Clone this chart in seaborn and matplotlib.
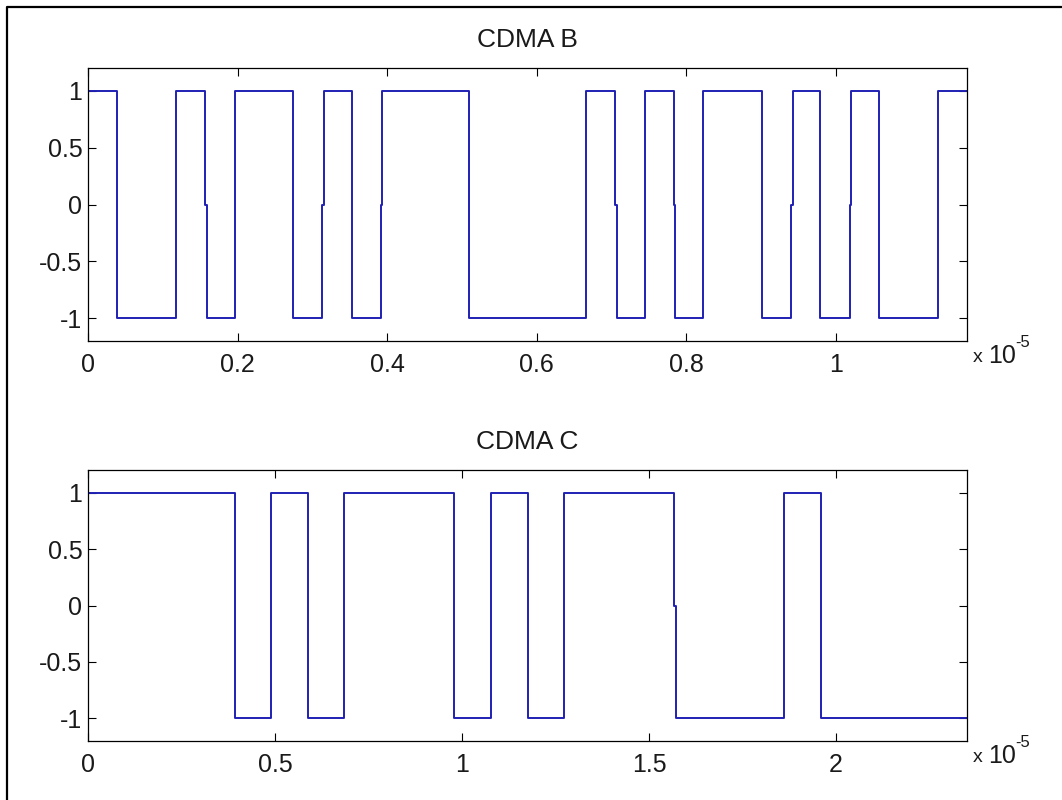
import numpy as np
import pandas as pd
import matplotlib
matplotlib.use("Agg")
import matplotlib.pyplot as plt
import seaborn as sns
from matplotlib.lines import Line2D
from matplotlib.ticker import FuncFormatter

# ---------------- data ----------------
titles = ["CDMA B", "CDMA C"]
chips_b = [1, -1, -1, 1, -1, 1, 1, -1, 1, -1, 1, 1, 1, -1, -1, -1, -1,
           1, -1, 1, -1, 1, 1, -1, 1, -1, 1, -1, -1, 1]
chips_c = [1, 1, 1, 1, -1, 1, -1, 1, 1, 1, -1, 1, -1, 1, 1, 1, -1, -1,
           -1, 1, -1, -1, -1, -1]
chip_time_b = 0.03917e-5   # seconds per chip
chip_time_c = 0.09792e-5
notch_chips_b = [4, 8, 10, 18, 20, 24, 26]   # transitions that pass a 0-sample
notch_chips_c = [16]
samples_per_chip = 20
xticks_b = [0, 0.2e-5, 0.4e-5, 0.6e-5, 0.8e-5, 1.0e-5]
xticks_c = [0, 0.5e-5, 1.0e-5, 1.5e-5, 2.0e-5]
yticks = [-1, -0.5, 0, 0.5, 1]


def waveform(chips, T, notches):
    d = T / samples_per_chip
    xs, ys = [0.0], [chips[0]]
    for k in range(1, len(chips)):
        if chips[k] != chips[k - 1]:
            t = k * T
            if k in notches:
                xs += [t, t, t + d, t + d]
                ys += [chips[k - 1], 0, 0, chips[k]]
            else:
                xs += [t, t]
                ys += [chips[k - 1], chips[k]]
    xs.append(len(chips) * T)
    ys.append(chips[-1])
    return pd.DataFrame({"t": xs, "v": ys})


sns.set_theme(style="ticks")
plt.rcParams["font.family"] = ["Liberation Sans", "DejaVu Sans"]
plt.rcParams["axes.unicode_minus"] = False
plt.rcParams["xtick.direction"] = "in"
plt.rcParams["ytick.direction"] = "in"

fig = plt.figure(figsize=(10.62, 8.0), dpi=100)
fig.patch.set_facecolor("white")

W = 1062.0
H = 800.0
boxes = [(88, 68, 967, 341), (88, 470, 967, 741)]
series = [(chips_b, chip_time_b, notch_chips_b, xticks_b),
          (chips_c, chip_time_c, notch_chips_c, xticks_c)]

txt = "#1a1a1a"
for (l, t, r, b), (chips, T, notches, xt), title in zip(boxes, series, titles):
    ax = fig.add_axes([l / W, 1 - b / H, (r - l) / W, (b - t) / H])
    df = waveform(chips, T, notches)
    sns.lineplot(data=df, x="t", y="v", ax=ax, sort=False, estimator=None,
                 color="#1f1fb4", linewidth=1.4)
    ax.set_xlim(0, len(chips) * T)
    ax.set_ylim(-1.2, 1.2)
    ax.set_xticks(xt)
    ax.set_yticks(yticks)
    ax.xaxis.set_major_formatter(FuncFormatter(lambda v, p: "%g" % round(v / 1e-5, 6)))
    ax.yaxis.set_major_formatter(FuncFormatter(lambda v, p: "%g" % v))
    ax.tick_params(axis="both", which="major", direction="in", length=6,
                   width=0.8, color="black", labelsize=18, top=True, right=True,
                   labelcolor=txt)
    ax.tick_params(axis="x", pad=9)
    ax.tick_params(axis="y", pad=4)
    for s in ax.spines.values():
        s.set_visible(True)
        s.set_color("black")
        s.set_linewidth(0.9)
    ax.set_xlabel("")
    ax.set_ylabel("")
    ax.set_facecolor("white")
    ax.set_title(title, fontsize=19, pad=15, color=txt)
    ax.annotate("x", xy=(1, 0), xycoords="axes fraction", xytext=(4, -6),
                textcoords="offset points", ha="left", va="top",
                fontsize=14, color=txt)
    ax.annotate("10", xy=(1, 0), xycoords="axes fraction", xytext=(15, -2),
                textcoords="offset points", ha="left", va="top",
                fontsize=18, color=txt)
    ax.annotate("-5", xy=(1, 0), xycoords="axes fraction", xytext=(35, 4),
                textcoords="offset points", ha="left", va="top",
                fontsize=12, color=txt)

# figure border (top and left edges visible in the screenshot)
fig.add_artist(Line2D([7 / W, 7 / W, 1.0], [0.0, 1 - 7 / H, 1 - 7 / H],
                      transform=fig.transFigure, color="black", linewidth=1.6))

fig.savefig("out.png", dpi=100, facecolor="white")
